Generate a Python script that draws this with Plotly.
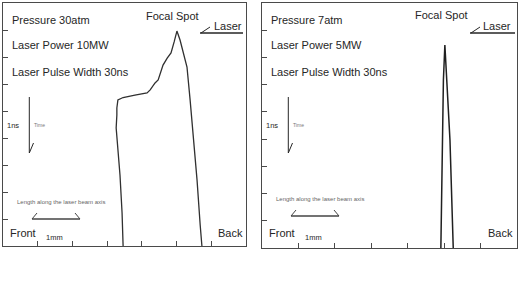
import plotly.graph_objects as go

W, H = 523, 291

# ---- data (mm along beam axis, ns in time) ----
left_x = [3.46, 3.43, 3.37, 3.34, 3.28, 3.26, 3.28, 3.28, 3.31, 3.46, 3.80, 4.15, 4.24, 4.29,
          4.38, 4.47, 4.61, 4.73, 4.84, 4.93, 5.01, 5.10, 5.19, 5.30, 5.39, 5.50, 5.59, 5.68, 5.73]
left_t = [0.00, 1.22, 2.63, 3.19, 3.93, 4.37, 4.85, 5.11, 5.41, 5.50, 5.59, 5.67, 5.78, 5.89,
          6.04, 6.15, 6.70, 6.96, 7.15, 7.56, 7.96, 7.63, 7.15, 6.63, 5.41, 3.93, 2.44, 0.78, 0.00]
right_x = [4.91, 4.96, 4.98, 5.02, 5.16, 5.25]
right_t = [0.00, 3.97, 6.17, 7.46, 3.97, 0.00]
x_range = [0, 7]
t_range = [0, 9]

left_labels = ["Pressure 30atm", "Laser Power 10MW", "Laser Pulse Width 30ns"]
right_labels = ["Pressure 7atm", "Laser Power 5MW", "Laser Pulse Width 30ns"]

FONT = "Liberation Sans, Arial, sans-serif"
INK = "#262626"
FRAME = "#4a4a4a"


def px(x):
    return x / W


def py(y):
    return 1 - y / H


fig = go.Figure()
fig.add_trace(go.Scatter(x=left_x, y=left_t, mode="lines", xaxis="x", yaxis="y",
                         line=dict(color="#303030", width=1.3), hoverinfo="skip"))
fig.add_trace(go.Scatter(x=right_x, y=right_t, mode="lines", xaxis="x2", yaxis="y2",
                         line=dict(color="#202020", width=1.5), hoverinfo="skip"))

axis_common = dict(showgrid=False, zeroline=False, showline=True, mirror=True,
                   linecolor=FRAME, linewidth=1, ticks="inside", ticklen=5,
                   tickcolor=FRAME, tickwidth=1, showticklabels=False, dtick=1, tick0=0,
                   fixedrange=True)

fig.update_layout(
    width=W, height=H, margin=dict(l=0, r=0, t=0, b=0),
    paper_bgcolor="white", plot_bgcolor="white", showlegend=False,
    xaxis=dict(domain=[px(3), px(246)], range=x_range, anchor="y", **axis_common),
    yaxis=dict(domain=[py(246), py(3)], range=t_range, anchor="x", **axis_common),
    xaxis2=dict(domain=[px(262), px(517)], range=x_range, anchor="y2", **axis_common),
    yaxis2=dict(domain=[py(248), py(3)], range=t_range, anchor="x2", **axis_common),
)

ann = []
shapes = []


def text(x, y, s, size, color=INK, xanchor="left"):
    ann.append(dict(x=px(x), y=py(y), xref="paper", yref="paper", text=s, showarrow=False,
                    xanchor=xanchor, yanchor="middle",
                    font=dict(family=FONT, size=size, color=color)))


def line(x0, y0, x1, y1, color=INK, width=1):
    shapes.append(dict(type="line", xref="paper", yref="paper", x0=px(x0), y0=py(y0),
                       x1=px(x1), y1=py(y1), line=dict(color=color, width=width)))


for off, labels in [(0, left_labels), (259, right_labels)]:
    # parameter text
    text(10 + off, 20, labels[0], 11)
    text(10 + off, 45, labels[1], 11)
    text(10 + off, 72, labels[2], 11)
    # time arrow
    text(5 + off, 125, "1ns", 7.5)
    text(32 + off, 125, "Time", 5, color="#777")
    line(29.3 + off, 97, 29.3 + off, 153, width=1)
    line(29.3 + off, 153, 33.5 + off, 143, width=1)
    # length bracket
    by = 219 if off == 0 else 216
    text(15 + off, by - 17, "Length along the laser beam axis", 6, color="#666")
    line(32 + off, by, 80 + off, by, color="#444", width=1.3)
    line(32 + off, by, 37 + off, by - 6, color="#444", width=1)
    line(80 + off, by, 75 + off, by - 6, color="#444", width=1)
    # Front / 1mm
    text(8 + off, 233, "Front", 11)
    text(44 + off, 237, "1mm", 7.5)

# Focal spot + laser labels
text(172, 16, "Focal Spot", 11, xanchor="center")
text(441, 15, "Focal Spot", 11, xanchor="center")
text(212, 26, "Laser", 11)
text(481, 26, "Laser", 11)
line(200, 33, 243, 33, width=1.3)
line(201, 33, 210, 27, width=1)
line(470, 33, 515, 33, width=1.3)
line(471, 33, 480, 27, width=1)
text(216, 233, "Back", 11)
text(486, 233, "Back", 11)

fig.update_layout(annotations=ann, shapes=shapes)
fig.write_html("out.html", config={"displayModeBar": False},
               post_script="document.body.style.margin='0';")
